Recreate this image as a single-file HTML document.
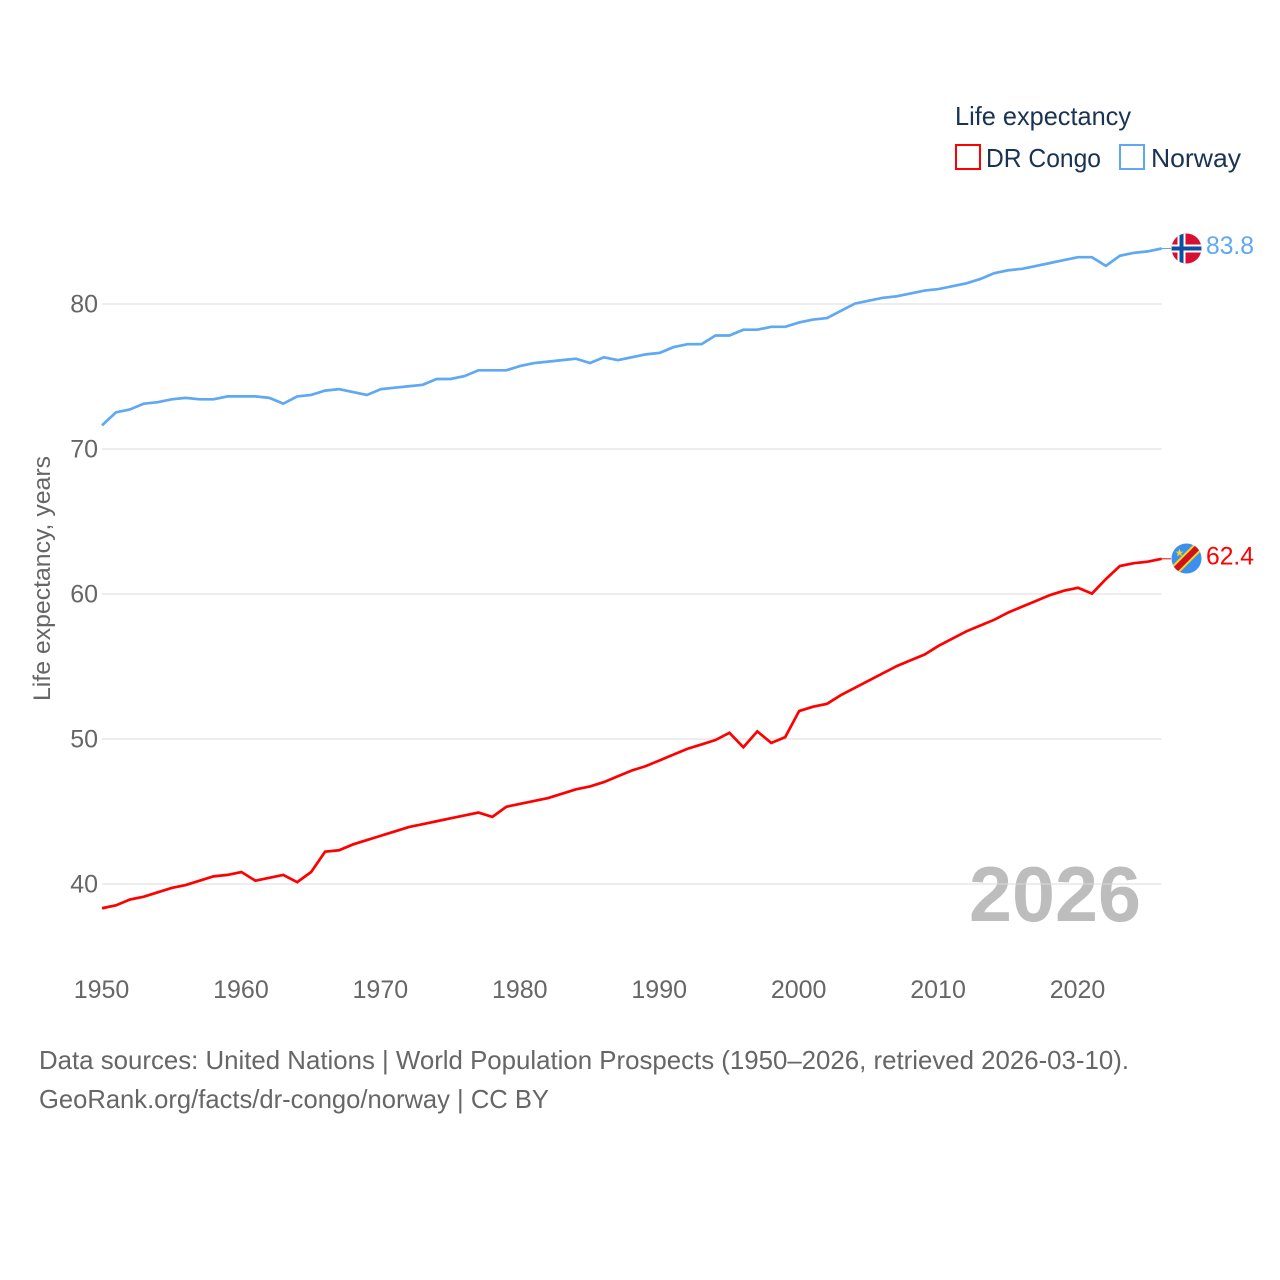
<!DOCTYPE html>
<html lang="en">
<head>
<meta charset="utf-8">
<title>Life expectancy: DR Congo and Norway</title>
<style>
html,body{margin:0;padding:0;background:#fff;width:1280px;height:1280px;overflow:hidden}
svg{display:block}
text{font-family:"Liberation Sans",sans-serif}
</style>
</head>
<body>
<svg id="chart" xmlns="http://www.w3.org/2000/svg" width="1280" height="1280" viewBox="0 0 1280 1280">
  <defs>
    <clipPath id="clip-no"><circle cx="1186.5" cy="248.5" r="15"/></clipPath>
    <clipPath id="clip-cd"><circle cx="1186.5" cy="558.5" r="15"/></clipPath>
  </defs>
  <text x="969" y="921" font-size="78" font-weight="700" fill="#bdbdbd" textLength="172" lengthAdjust="spacingAndGlyphs">2026</text>
  <g id="grid"></g>
  <g id="yticks"></g>
  <g id="xticks"></g>
  <text transform="translate(50,701) rotate(-90)" font-size="24" fill="#666" textLength="245" lengthAdjust="spacingAndGlyphs">Life expectancy, years</text>
  <g id="series"></g>

  <g>
    <text x="955" y="125" font-size="26" fill="#1a3353" textLength="176" lengthAdjust="spacingAndGlyphs">Life expectancy</text>
    <g>
      <rect x="956" y="145" width="24" height="24" fill="#fff" stroke="#ff0000" stroke-width="2"/>
      <text x="986" y="167" font-size="26" fill="#1a3353" textLength="115" lengthAdjust="spacingAndGlyphs">DR Congo</text>
    </g>
    <g>
      <rect x="1120" y="145" width="24" height="24" fill="#fff" stroke="#5fa8f2" stroke-width="2"/>
      <text x="1151" y="167" font-size="26" fill="#1a3353" textLength="90" lengthAdjust="spacingAndGlyphs">Norway</text>
    </g>
  </g>

  <g clip-path="url(#clip-no)">
    <rect x="1171" y="233" width="31" height="31" fill="#d80f31"/>
    <rect x="1171" y="244.5" width="31" height="8" fill="#fff"/>
    <rect x="1177.5" y="233" width="8" height="31" fill="#fff"/>
    <rect x="1171" y="246.5" width="31" height="4" fill="#0b4ea2"/>
    <rect x="1179.5" y="233" width="4" height="31" fill="#0b4ea2"/>
  </g>
  <text x="1206" y="254" font-size="25" fill="#5fa8f2" textLength="48" lengthAdjust="spacingAndGlyphs">83.8</text>

  <g clip-path="url(#clip-cd)">
    <rect x="1171" y="543" width="31" height="31" fill="#3b8ff0"/>
    <line x1="1168" y1="577" x2="1205" y2="540" stroke="#f7d618" stroke-width="10"/>
    <line x1="1168" y1="577" x2="1205" y2="540" stroke="#ce1021" stroke-width="6"/>
    <polygon points="1179.5,548.5 1180.6,551.6 1183.5,551.6 1181.2,553.4 1182,556.4 1179.5,554.6 1177,556.4 1177.8,553.4 1175.5,551.6 1178.4,551.6" fill="#f7d618"/>
  </g>
  <text x="1206" y="564.5" font-size="25" fill="#ff0000" textLength="48" lengthAdjust="spacingAndGlyphs">62.4</text>

  <text x="39" y="1069" font-size="26" fill="#666" textLength="1090" lengthAdjust="spacingAndGlyphs">Data sources: United Nations | World Population Prospects (1950–2026, retrieved 2026-03-10).</text>
  <text x="39" y="1108" font-size="26" fill="#666" textLength="510" lengthAdjust="spacingAndGlyphs">GeoRank.org/facts/dr-congo/norway | CC BY</text>
</svg>
<script>
const startYear = 1950;
const xTickYears = [1950, 1960, 1970, 1980, 1990, 2000, 2010, 2020];
const yTickValues = [40, 50, 60, 70, 80];
const norwayValues = [71.6,72.5,72.7,73.1,73.2,73.4,73.5,73.4,73.4,73.6,73.6,73.6,73.5,73.1,73.6,73.7,74.0,74.1,73.9,73.7,74.1,74.2,74.3,74.4,74.8,74.8,75.0,75.4,75.4,75.4,75.7,75.9,76.0,76.1,76.2,75.9,76.3,76.1,76.3,76.5,76.6,77.0,77.2,77.2,77.8,77.8,78.2,78.2,78.4,78.4,78.7,78.9,79.0,79.5,80.0,80.2,80.4,80.5,80.7,80.9,81.0,81.2,81.4,81.7,82.1,82.3,82.4,82.6,82.8,83.0,83.2,83.2,82.6,83.3,83.5,83.6,83.8];
const drCongoValues = [38.3,38.5,38.9,39.1,39.4,39.7,39.9,40.2,40.5,40.6,40.8,40.2,40.4,40.6,40.1,40.8,42.2,42.3,42.7,43.0,43.3,43.6,43.9,44.1,44.3,44.5,44.7,44.9,44.6,45.3,45.5,45.7,45.9,46.2,46.5,46.7,47.0,47.4,47.8,48.1,48.5,48.9,49.3,49.6,49.9,50.4,49.4,50.5,49.7,50.1,51.9,52.2,52.4,53.0,53.5,54.0,54.5,55.0,55.4,55.8,56.4,56.9,57.4,57.8,58.2,58.7,59.1,59.5,59.9,60.2,60.4,60.0,61.0,61.9,62.1,62.2,62.4];

const SVG_NS = 'http://www.w3.org/2000/svg';
function xScale(year) { return 102 + (year - 1950) * (1078 - 102) / 70; }
function yScale(value) { return 884 - (value - 40) * 14.5; }
function make(tag, attrs, parent) {
  const el = document.createElementNS(SVG_NS, tag);
  for (const k in attrs) el.setAttribute(k, attrs[k]);
  parent.appendChild(el);
  return el;
}
const gridGroup = document.getElementById('grid');
const yGroup = document.getElementById('yticks');
const xGroup = document.getElementById('xticks');
const seriesGroup = document.getElementById('series');

yTickValues.forEach(function (v) {
  const line = make('line', {x1: xScale(1950), x2: xScale(2026), y1: yScale(v), y2: yScale(v), stroke: '#dcdcdc', 'stroke-opacity': 0.5, 'stroke-width': 2}, gridGroup);
  
  
  const label = make('text', {x: 98, y: yScale(v) + 8.5, 'text-anchor': 'end', 'font-size': 25, fill: '#666'}, yGroup);
  
  
  label.textContent = v;
});

xTickYears.forEach(function (year) {
  const label = make('text', {x: xScale(year) - 0.5, y: 998, 'text-anchor': 'middle', 'font-size': 25, fill: '#666'}, xGroup);
  
  
  label.textContent = year;
});

function pointsFor(values) {
  return values.map(function (v, i) {
    return xScale(startYear + i).toFixed(2) + ',' + (yScale(v) - 0.4).toFixed(2);
  }).join(' ');
}
function lastPoint(values) {
  return {x: xScale(startYear + values.length - 1), y: yScale(values[values.length - 1]) - 0.4};
}

const drLine = make('polyline', {points: pointsFor(drCongoValues), fill: 'none', stroke: '#ff0000', 'stroke-width': 2.7, 'stroke-linejoin': 'miter'}, seriesGroup);


const noLine = make('polyline', {points: pointsFor(norwayValues), fill: 'none', stroke: '#5fa8f2', 'stroke-width': 2.7, 'stroke-linejoin': 'miter'}, seriesGroup);



const drEnd = lastPoint(drCongoValues);
const drConn = make('line', {x1: drEnd.x, y1: drEnd.y, x2: 1171, y2: drEnd.y, stroke: '#ff0000', 'stroke-width': 1}, seriesGroup);


const noEnd = lastPoint(norwayValues);
const noConn = make('line', {x1: noEnd.x, y1: noEnd.y, x2: 1171, y2: noEnd.y, stroke: '#5fa8f2', 'stroke-width': 1}, seriesGroup);


</script>
</body>
</html>
